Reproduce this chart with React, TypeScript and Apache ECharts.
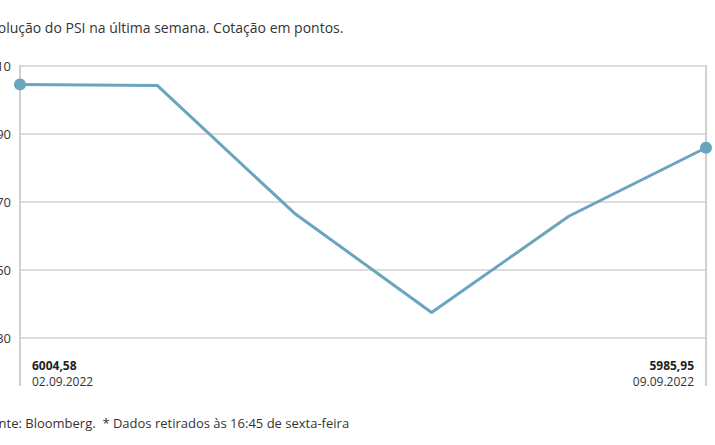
import React, { useEffect, useRef } from "react";
import * as echarts from "echarts";

const categories = ["02.09", "05.09", "06.09", "07.09", "08.09", "09.09"];
const psiValues = [6004.58, 6004.3, 5966.7, 5937.5, 5965.8, 5985.95];
const yTicks = [5930, 5950, 5970, 5990, 6010];
const startLabel = ["6004,58", "02.09.2022"];
const endLabel = ["5985,95", "09.09.2022"];
const titleText = "Evolução do PSI na última semana. Cotação em pontos.";
const footerText = "Fonte: Bloomberg.  * Dados retirados às 16:45 de sexta-feira";

const FONT = "'Open Sans', sans-serif";

export default function App() {
  const ref = useRef<HTMLDivElement>(null);
  useEffect(() => {
    if (!ref.current) return;
    const chart = echarts.init(ref.current, undefined, { renderer: "svg" });
    const last = psiValues.length - 1;
    chart.setOption({
      animation: false,
      backgroundColor: "#ffffff",
      grid: { left: 20, right: 9, top: 66, bottom: 107, containLabel: false, outerBoundsMode: "none" },
      xAxis: {
        type: "category",
        data: categories,
        boundaryGap: false,
        axisLine: { show: false },
        axisTick: { show: false },
        axisLabel: { show: false },
        splitLine: { show: false },
      },
      yAxis: {
        type: "value",
        min: yTicks[0],
        max: yTicks[yTicks.length - 1],
        interval: 20,
        axisLine: { show: false },
        axisTick: { show: false },
        axisLabel: {
          color: "#333",
          fontFamily: FONT,
          fontSize: 13,
          margin: 9,
          formatter: (v: number) => String(v),
        },
        splitLine: { lineStyle: { color: "#dcdcdc", width: 2 } },
      },
      series: [
        {
          type: "line",
          data: psiValues.map((v, i) => ({
            value: v,
            symbol: i === 0 || i === last ? "circle" : "none",
            symbolSize: 12,
          })),
          lineStyle: { color: "#6aa5bf", width: 3 },
          itemStyle: { color: "#6aa5bf" },
          z: 5,
        },
      ],
      graphic: [
        { type: "line", shape: { x1: 20, y1: 65, x2: 20, y2: 386 }, style: { stroke: "#d0d0d0", lineWidth: 2 }, z: 1 },
        { type: "line", shape: { x1: 706, y1: 65, x2: 706, y2: 386 }, style: { stroke: "#d0d0d0", lineWidth: 2 }, z: 1 },
        { type: "text", left: -17, top: 20, style: { text: titleText, fill: "#333", font: `14px ${FONT}` } },
        { type: "text", left: -16, top: 416, style: { text: footerText, fill: "#333", font: `13px ${FONT}` } },
        { type: "text", left: 32, top: 359, style: { text: startLabel[0], fill: "#222", font: `bold 12px ${FONT}` } },
        { type: "text", left: 32, top: 375, style: { text: startLabel[1], fill: "#333", font: `12px ${FONT}` } },
        { type: "text", right: 21, top: 359, style: { text: endLabel[0], fill: "#222", font: `bold 12px ${FONT}`, align: "right" } },
        { type: "text", right: 21, top: 375, style: { text: endLabel[1], fill: "#333", font: `12px ${FONT}`, align: "right" } },
      ],
    });
    return () => chart.dispose();
  }, []);
  return <div ref={ref} style={{ width: 715, height: 445, position: "fixed", left: 0, top: 0 }} />;
}
